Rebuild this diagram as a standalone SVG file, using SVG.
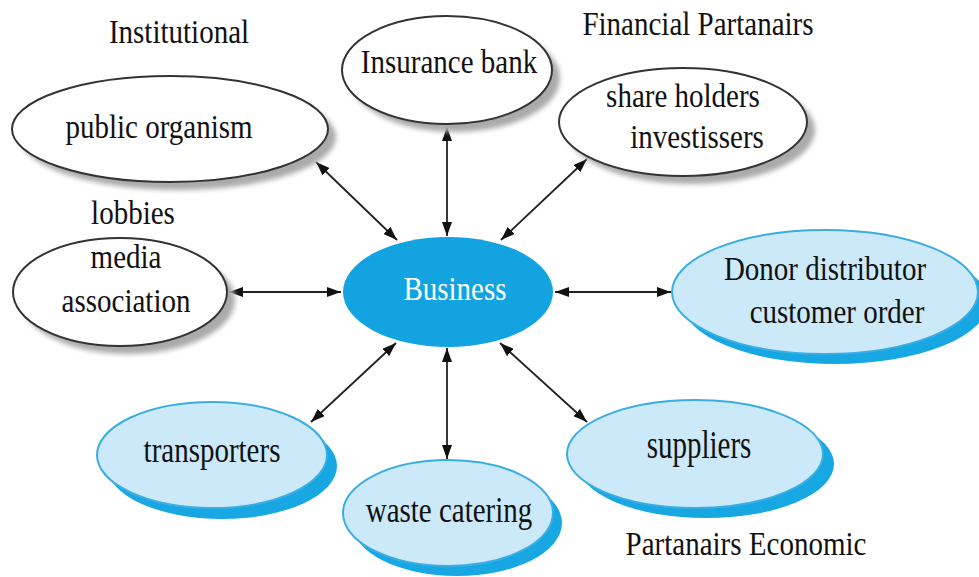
<svg xmlns="http://www.w3.org/2000/svg" width="979" height="577" viewBox="0 0 979 577">
<style>
.t{font-family:"Liberation Serif","Times New Roman",serif;font-size:29px;fill:#111;text-anchor:middle}
.w{fill:#fff;stroke:#333;stroke-width:2}
.ws{fill:#aaa;filter:url(#blur)}
.b{fill:#cbe9f9;stroke:#3aaee3;stroke-width:2}
.bs{fill:#17a7e3}
.c{stroke:#222;stroke-width:1.8;fill:none;marker-start:url(#ah);marker-end:url(#ah)}
</style>
<defs>
<filter id="blur" x="-20%" y="-20%" width="140%" height="140%"><feGaussianBlur stdDeviation="2.5"/></filter>
<marker id="ah" viewBox="0 0 14 10" refX="14" refY="5" markerWidth="14" markerHeight="10" markerUnits="userSpaceOnUse" orient="auto-start-reverse"><path d="M0,0 L14,5 L0,10 Z" fill="#111"/></marker>
</defs>
<rect width="979" height="577" fill="#fff"/>

<g id="connectors">
<line class="c" x1="316" y1="162" x2="397" y2="240"/>
<line class="c" x1="447" y1="127" x2="447" y2="236"/>
<line class="c" x1="587" y1="159" x2="501" y2="240"/>
<line class="c" x1="229" y1="292" x2="341" y2="292"/>
<line class="c" x1="555" y1="292" x2="671" y2="292"/>
<line class="c" x1="396" y1="343" x2="311" y2="422"/>
<line class="c" x1="447" y1="348" x2="447" y2="459"/>
<line class="c" x1="500" y1="343" x2="587" y2="422"/>
</g>

<g id="label-institutional"><text class="t" transform="translate(179,43) scale(1,1.15)">Institutional</text></g>
<g id="label-financial"><text class="t" transform="translate(698,35) scale(1,1.15)">Financial Partanairs</text></g>
<g id="label-economic"><text class="t" transform="translate(746,555) scale(1,1.15)">Partanairs Economic</text></g>

<g id="public-organism">
<ellipse class="ws" cx="178" cy="137" rx="158" ry="53"/>
<ellipse class="w" cx="170" cy="129" rx="158" ry="53"/>
<text class="t" transform="translate(159,138) scale(1,1.15)">public organism</text>
</g>

<g id="insurance-bank">
<ellipse class="ws" cx="455" cy="78" rx="105" ry="54"/>
<ellipse class="w" cx="447" cy="70" rx="105" ry="54"/>
<text class="t" transform="translate(449,73) scale(1,1.15)">Insurance bank</text>
</g>

<g id="share-holders">
<ellipse class="ws" cx="691" cy="130" rx="124" ry="54"/>
<ellipse class="w" cx="683" cy="122" rx="124" ry="54"/>
<text class="t" transform="translate(683,107) scale(1,1.15)">share holders</text>
<text class="t" transform="translate(697,148) scale(1,1.15)">investissers</text>
</g>

<g id="media-association">
<ellipse class="ws" cx="128" cy="300" rx="107" ry="54"/>
<ellipse class="w" cx="120" cy="292" rx="107" ry="54"/>
<text class="t" transform="translate(133,224) scale(1,1.15)">lobbies</text>
<text class="t" transform="translate(126,268) scale(1,1.15)">media</text>
<text class="t" transform="translate(126,312) scale(1,1.15)">association</text>
</g>

<g id="business">
<ellipse cx="448" cy="292" rx="105" ry="55" fill="#12a3e0"/>
<text class="t" style="fill:#fff" transform="translate(455,300) scale(1,1.15)">Business</text>
</g>

<g id="donor-distributor">
<ellipse class="bs" cx="835" cy="302" rx="153" ry="62"/>
<ellipse class="b" cx="825" cy="292" rx="153" ry="62"/>
<text class="t" transform="translate(825,280) scale(1,1.15)">Donor distributor</text>
<text class="t" transform="translate(837,323) scale(1,1.15)">customer order</text>
</g>

<g id="transporters">
<ellipse class="bs" cx="222" cy="466" rx="115" ry="53"/>
<ellipse class="b" cx="212" cy="455" rx="115" ry="53"/>
<text class="t" transform="translate(212,462) scale(1,1.2)">transporters</text>
</g>

<g id="waste-catering">
<ellipse class="bs" cx="457" cy="523" rx="105" ry="53"/>
<ellipse class="b" cx="448" cy="513" rx="105" ry="53"/>
<text class="t" transform="translate(449,522) scale(1,1.2)">waste catering</text>
</g>

<g id="suppliers">
<ellipse class="bs" cx="706" cy="464" rx="128" ry="54"/>
<ellipse class="b" cx="695" cy="454" rx="128" ry="54"/>
<text class="t" transform="translate(699,458) scale(1,1.4)">suppliers</text>
</g>
</svg>
